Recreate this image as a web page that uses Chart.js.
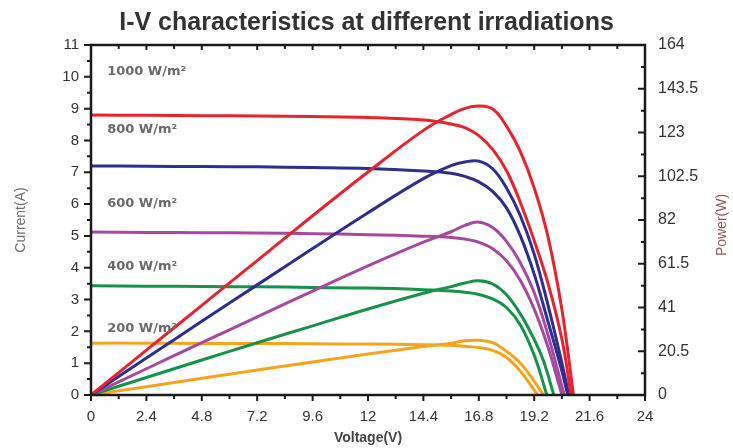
<!DOCTYPE html>
<html>
<head>
<meta charset="utf-8">
<script src="https://cdn.jsdelivr.net/npm/chart.js@4.4.1/dist/chart.umd.min.js"></script>
<style>
  html, body { margin: 0; padding: 0; background: #ffffff; }
  #wrap { width: 733px; height: 448px; }
</style>
</head>
<body>
<div id="wrap"><canvas id="ivChart" width="733" height="448"></canvas></div>
<script>
// I-V and P-V curves (voltage in V, current in A, power in W)

const vRedI = [0, 2.4, 4.8, 7.2, 9.6, 12, 14.4, 15.6, 16.2, 16.8, 17.4, 18, 18.6, 19.2, 19.8, 20.4, 20.8];
const iRed = [8.8, 8.79, 8.78, 8.77, 8.75, 8.72, 8.64, 8.52, 8.4, 8.15, 7.72, 7.05, 6.05, 4.85, 3.5, 1.75, 0];
const vRedP = [0, 2.4, 4.8, 7.2, 9.6, 12, 14.4, 15.6, 16.2, 16.8, 17.4, 18, 18.6, 19.2, 19.8, 20.4, 20.9];
const pRed = [0, 21, 42, 63, 84, 104.5, 124, 131.5, 134.3, 135.4, 134, 126, 114, 97, 74, 40, 0];

const vBlueI = [0, 2.4, 4.8, 7.2, 9.6, 12, 14.4, 15.6, 16.2, 16.8, 17.4, 18, 18.6, 19.2, 19.8, 20.4, 20.65];
const iBlue = [7.2, 7.19, 7.18, 7.17, 7.15, 7.12, 7.04, 6.97, 6.87, 6.7, 6.4, 5.88, 5.0, 3.8, 2.3, 0.75, 0];
const vBlueP = [0, 2.4, 4.8, 7.2, 9.6, 12, 14.4, 15.6, 16.2, 16.8, 17.4, 18, 18.6, 19.2, 19.8, 20.4, 20.7];
const pBlue = [0, 17.3, 34.5, 51.6, 68.6, 85.4, 101.4, 107.5, 109.2, 109.6, 106, 97, 84, 66, 42, 15, 0];

const vPurpleI = [0, 2.4, 4.8, 7.2, 9.6, 12, 14.4, 15.6, 16.2, 16.8, 17.4, 18, 18.6, 19.2, 19.8, 20.4];
const iPurple = [5.12, 5.11, 5.1, 5.09, 5.07, 5.04, 4.99, 4.95, 4.9, 4.8, 4.6, 4.22, 3.6, 2.7, 1.5, 0];
const vPurpleP = [0, 2.4, 4.8, 7.2, 9.6, 12, 14.4, 15.6, 16.2, 16.8, 17.4, 18, 18.6, 19.2, 19.8, 20.5];
const pPurple = [0, 12.3, 24.5, 36.6, 48.7, 60.5, 71.6, 76.5, 79.5, 81, 78.5, 72, 62, 48, 28, 0];

const vGreenI = [0, 2.4, 4.8, 7.2, 9.6, 12, 14.4, 15.6, 16.2, 16.8, 17.4, 18, 18.6, 19.2, 19.75];
const iGreen = [3.43, 3.42, 3.41, 3.4, 3.38, 3.36, 3.31, 3.27, 3.23, 3.16, 3.02, 2.75, 2.2, 1.25, 0];
const vGreenP = [0, 2.4, 4.8, 7.2, 9.6, 12, 14.4, 15.6, 16.2, 16.8, 17.4, 18, 18.6, 19.2, 19.6, 20.05];
const pGreen = [0, 8.2, 16.4, 24.5, 32.4, 40.3, 47.7, 50.8, 52.5, 53.5, 52, 47, 38, 26, 16, 0];

const vOrangeI = [0, 2.4, 4.8, 7.2, 9.6, 12, 14.4, 15.6, 16.2, 16.8, 17.4, 18, 18.6, 19.35];
const iOrange = [1.63, 1.63, 1.62, 1.62, 1.61, 1.6, 1.58, 1.56, 1.53, 1.49, 1.4, 1.18, 0.75, 0];
const vOrangeP = [0, 2.4, 4.8, 7.2, 9.6, 12, 14.4, 15.6, 16.2, 16.8, 17.4, 18, 18.6, 19.2, 19.6];
const pOrange = [0, 3.9, 7.8, 11.7, 15.5, 19.2, 22.7, 24.3, 25.4, 25.6, 24.5, 20.5, 15, 6.5, 0];

// irradiance labels, anchored in data units (V, A)
const irradianceLabels = ["1000 W/m²", "800 W/m²", "600 W/m²", "400 W/m²", "200 W/m²"];
const labelVoltage = [0.7, 0.7, 0.7, 0.7, 0.7];
const labelCurrent = [10.15, 8.33, 6.03, 4.02, 2.1];

// axis ticks
const voltageTicks = [0, 2.4, 4.8, 7.2, 9.6, 12, 14.4, 16.8, 19.2, 21.6, 24];
const currentTicks = [0, 1, 2, 3, 4, 5, 6, 7, 8, 9, 10, 11];
const powerTicks = [0, 20.5, 41, 61.5, 82, 102.5, 123, 143.5, 164];

const seriesColors = ["#e8232d", "#2e2e90", "#a64aa0", "#16924a", "#f6a41e"];

function toPoints(xs, ys) {
  return xs.map((x, i) => ({ x: x, y: ys[i] }));
}

function makeLine(label, xs, ys, color, axis) {
  return {
    label: label,
    data: toPoints(xs, ys),
    yAxisID: axis,
    borderColor: color,
    backgroundColor: color,
    borderWidth: 3,
    pointRadius: 0,
    fill: false,
    tension: 0.4
  };
}

// frame, tick marks, irradiance labels and the right axis title
const framePlugin = {
  id: "frame",
  afterDatasetsDraw(chart) {
    const ctx = chart.ctx;
    const area = chart.chartArea;
    const sx = chart.scales.x;
    const sy = chart.scales.y;
    const sp = chart.scales.y1;

    ctx.save();

    ctx.fillStyle = "#6a6a6a";
    ctx.font = "bold 13px 'DejaVu Sans'";
    ctx.textBaseline = "middle";
    ctx.textAlign = "left";
    irradianceLabels.forEach((text, i) => {
      ctx.fillText(text, sx.getPixelForValue(labelVoltage[i]), sy.getPixelForValue(labelCurrent[i]));
    });

    // Power(W) reads bottom to top, like the left title
    ctx.save();
    ctx.translate(722, (area.top + area.bottom) / 2 + 5);
    ctx.rotate(-Math.PI / 2);
    ctx.textAlign = "center";
    ctx.fillStyle = "#8a5c5c";
    ctx.font = "14px 'Liberation Sans', Arial, sans-serif";
    ctx.fillText("Power(W)", 0, 0);
    ctx.restore();

    ctx.strokeStyle = "#1e1a1a";
    ctx.lineWidth = 2.5;
    ctx.strokeRect(area.left, area.top, area.right - area.left, area.bottom - area.top);

    ctx.lineWidth = 2;
    ctx.beginPath();
    for (let k = 0; k < currentTicks.length; k++) {
      const yy = sy.getPixelForValue(currentTicks[k]);
      ctx.moveTo(area.left, yy);
      ctx.lineTo(area.left - 7, yy);
      if (k < currentTicks.length - 1) {
        const ym = sy.getPixelForValue(currentTicks[k] + 0.5);
        ctx.moveTo(area.left, ym);
        ctx.lineTo(area.left - 4, ym);
      }
    }
    for (let k = 0; k < powerTicks.length; k++) {
      const yy = sp.getPixelForValue(powerTicks[k]);
      ctx.moveTo(area.right, yy);
      ctx.lineTo(area.right - 7, yy);
      if (k < powerTicks.length - 1) {
        const ym = sp.getPixelForValue((powerTicks[k] + powerTicks[k + 1]) / 2);
        ctx.moveTo(area.right, ym);
        ctx.lineTo(area.right - 4, ym);
      }
    }
    for (let k = 0; k < voltageTicks.length; k++) {
      const xx = sx.getPixelForValue(voltageTicks[k]);
      ctx.moveTo(xx, area.bottom);
      ctx.lineTo(xx, area.bottom + 6);
      ctx.moveTo(xx, area.top);
      ctx.lineTo(xx, area.top + 5);
      if (k < voltageTicks.length - 1) {
        const xm = sx.getPixelForValue((voltageTicks[k] + voltageTicks[k + 1]) / 2);
        ctx.moveTo(xm, area.bottom);
        ctx.lineTo(xm, area.bottom + 4);
        ctx.moveTo(xm, area.top);
        ctx.lineTo(xm, area.top + 4);
      }
    }
    ctx.stroke();

    ctx.restore();
  }
};

const tickFont = { family: "'Liberation Sans', Arial, sans-serif", size: 15 };

new Chart(document.getElementById("ivChart"), {
  type: "line",
  data: {
    datasets: [
      makeLine("1000 W/m² I", vRedI, iRed, seriesColors[0], "y"),
      makeLine("1000 W/m² P", vRedP, pRed, seriesColors[0], "y1"),
      makeLine("800 W/m² I", vBlueI, iBlue, seriesColors[1], "y"),
      makeLine("800 W/m² P", vBlueP, pBlue, seriesColors[1], "y1"),
      makeLine("600 W/m² I", vPurpleI, iPurple, seriesColors[2], "y"),
      makeLine("600 W/m² P", vPurpleP, pPurple, seriesColors[2], "y1"),
      makeLine("400 W/m² I", vGreenI, iGreen, seriesColors[3], "y"),
      makeLine("400 W/m² P", vGreenP, pGreen, seriesColors[3], "y1"),
      makeLine("200 W/m² I", vOrangeI, iOrange, seriesColors[4], "y"),
      makeLine("200 W/m² P", vOrangeP, pOrange, seriesColors[4], "y1")
    ]
  },
  options: {
    responsive: false,
    animation: false,
    devicePixelRatio: 1,
    layout: { padding: 0 },
    plugins: {
      legend: { display: false },
      tooltip: { enabled: false },
      title: {
        display: true,
        text: "I-V characteristics at different irradiations",
        color: "#333333",
        font: { family: "'Liberation Sans', Arial, sans-serif", size: 25, weight: "bold" },
        padding: { top: 8, bottom: 7 }
      }
    },
    scales: {
      x: {
        type: "linear",
        position: "bottom",
        min: 0,
        max: 24,
        afterBuildTicks: (s) => { s.ticks = voltageTicks.map((v) => ({ value: v })); },
        afterFit: (s) => { s.height = 53; },
        grid: { display: false, drawTicks: false },
        border: { display: false },
        ticks: { color: "#333333", font: tickFont, padding: 13, maxRotation: 0, callback: (v) => String(v) },
        title: {
          display: true,
          text: "Voltage(V)",
          color: "#444444",
          font: { family: "'Liberation Sans', Arial, sans-serif", size: 14, weight: "bold" },
          padding: { top: 0, bottom: 1 }
        }
      },
      y: {
        type: "linear",
        position: "left",
        min: 0,
        max: 11,
        afterBuildTicks: (s) => { s.ticks = currentTicks.map((v) => ({ value: v })); },
        afterFit: (s) => { s.width = 91; },
        grid: { display: false, drawTicks: false },
        border: { display: false },
        ticks: { color: "#333333", font: tickFont, padding: 12, callback: (v) => String(v) },
        title: {
          display: true,
          text: "Current(A)",
          color: "#6e6e6e",
          font: { family: "'Liberation Sans', Arial, sans-serif", size: 14 },
          padding: { top: 13, bottom: 0 }
        }
      },
      y1: {
        type: "linear",
        position: "right",
        min: 0,
        max: 164,
        afterBuildTicks: (s) => { s.ticks = powerTicks.map((v) => ({ value: v })); },
        afterFit: (s) => { s.width = 88; },
        grid: { display: false, drawTicks: false },
        border: { display: false },
        ticks: { color: "#333333", font: { family: "'Liberation Sans', Arial, sans-serif", size: 16 }, padding: 13, callback: (v) => String(v) },
        title: { display: false }
      }
    }
  },
  plugins: [framePlugin]
});
</script>
</body>
</html>
